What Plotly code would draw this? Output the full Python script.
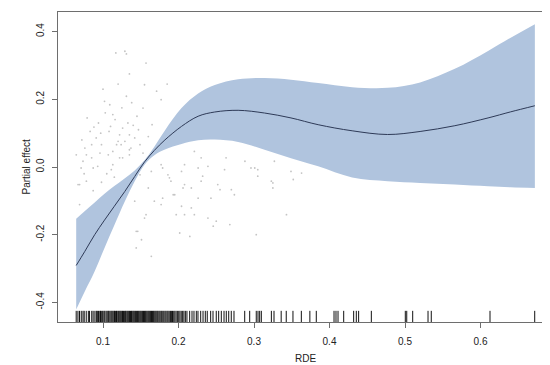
import plotly.graph_objects as go

# Smooth term estimate (RDE) with 95% band
grid_x = [0.0645, 0.076, 0.089, 0.102, 0.115, 0.129, 0.142, 0.155, 0.168, 0.182,
          0.204, 0.226, 0.248, 0.279, 0.314, 0.349, 0.385, 0.43, 0.477, 0.52,
          0.566, 0.61, 0.64, 0.672]
fit = [-0.291, -0.249, -0.200, -0.157, -0.116, -0.072, -0.028, 0.015, 0.049, 0.080,
       0.120, 0.150, 0.1625, 0.1675, 0.1595, 0.145, 0.125, 0.107, 0.096, 0.105,
       0.122, 0.145, 0.163, 0.181]
upper = [-0.153, -0.130, -0.105, -0.079, -0.056, -0.033, -0.010, 0.020, 0.060, 0.108,
         0.174, 0.217, 0.242, 0.259, 0.263, 0.258, 0.248, 0.236, 0.234, 0.250,
         0.290, 0.343, 0.382, 0.422]
lower = [-0.421, -0.367, -0.308, -0.239, -0.172, -0.101, -0.042, 0.007, 0.035, 0.052,
         0.068, 0.079, 0.081, 0.074, 0.051, 0.026, 0.002, -0.031, -0.042, -0.047,
         -0.052, -0.057, -0.060, -0.062]

# partial residuals
resid_x = [0.117, 0.129, 0.131, 0.157, 0.135, 0.155, 0.102, 0.109, 0.131, 0.171, 0.177, 0.103,
           0.113, 0.153, 0.133, 0.140, 0.126, 0.122, 0.135, 0.142, 0.129, 0.091, 0.085, 0.118,
           0.149, 0.096, 0.113, 0.135, 0.153, 0.078, 0.076, 0.098, 0.120, 0.085, 0.107, 0.071,
           0.093, 0.111, 0.126, 0.137, 0.078, 0.067, 0.069, 0.0646, 0.164, 0.177, 0.186, 0.160,
           0.168, 0.177, 0.142, 0.155, 0.146, 0.164, 0.195, 0.190, 0.124, 0.221, 0.230, 0.208,
           0.204, 0.226, 0.239, 0.263, 0.261, 0.288, 0.296, 0.305, 0.305, 0.327, 0.323, 0.349,
           0.363, 0.352, 0.208, 0.232, 0.230, 0.217, 0.252, 0.255, 0.270, 0.226, 0.243, 0.274,
           0.204, 0.217, 0.208, 0.221, 0.239, 0.250, 0.268, 0.246, 0.343, 0.2016, 0.215, 0.303,
           0.325, 0.301, 0.325, 0.151, 0.0735, 0.087, 0.069, 0.113, 0.122, 0.135, 0.149,
           0.179, 0.188, 0.179, 0.193, 0.197, 0.157, 0.144, 0.144, 0.206, 0.088, 0.094, 0.108,
           0.116, 0.145, 0.138, 0.125, 0.097, 0.083, 0.072, 0.110, 0.147, 0.160, 0.165, 0.185,
           0.120, 0.100, 0.079, 0.115, 0.128, 0.105, 0.098, 0.133, 0.120, 0.087, 0.075]
resid_y = [0.337, 0.342, 0.334, 0.307, 0.275, 0.243, 0.194, 0.184, 0.209, 0.224, 0.199, 0.160,
           0.155, 0.174, 0.130, 0.123, 0.115, 0.095, 0.095, 0.086, 0.076, 0.086, 0.066, 0.066,
           0.066, 0.041, 0.046, 0.051, 0.041, 0.036, 0.056, 0.066, 0.076, 0.027, 0.036, -0.003,
           0.002, -0.008, 0.027, 0.056, -0.042, -0.052, -0.111, 0.036, -0.013, 0.007, -0.023, -0.062,
           -0.101, -0.111, -0.101, -0.151, -0.190, -0.264, -0.082, -0.042, 0.066, 0.046, 0.027, 0.007,
           -0.013, -0.003, 0.002, 0.027, -0.008, 0.017, -0.003, -0.008, -0.027, 0.017, -0.042, -0.013,
           -0.018, -0.037, -0.052, -0.027, -0.042, -0.062, -0.052, -0.067, -0.067, -0.092, -0.092, -0.082,
           -0.116, -0.121, -0.141, -0.141, -0.151, -0.160, -0.170, -0.175, -0.141, -0.195, -0.205, -0.200,
           -0.062, -0.003, -0.047, -0.215, 0.017, -0.003, -0.052, 0.007, 0.027, 0.036, -0.023,
           -0.003, -0.032, -0.092, -0.082, -0.141, -0.141, -0.190, -0.239, -0.062, 0.118, 0.130, 0.105,
           0.140, 0.150, 0.190, 0.175, 0.100, 0.105, 0.080, 0.120, 0.110, 0.090, 0.125, 0.245,
           0.245, 0.230, 0.145, -0.030, -0.060, -0.020, -0.045, -0.040, -0.085, -0.070, -0.020]

# rug (observed RDE values)
rug_x = [0.0645, 0.0668, 0.0689, 0.0712, 0.0735, 0.0751, 0.0778, 0.0806, 0.0822, 0.0851, 0.0869,
         0.0893, 0.0912, 0.0925, 0.0941, 0.0958, 0.0967, 0.0983, 0.0996, 0.1012, 0.1024, 0.1041,
         0.1055, 0.1069, 0.1078, 0.1092, 0.1106, 0.1118, 0.1131, 0.1145, 0.1152, 0.1167, 0.1179,
         0.1188, 0.1203, 0.1214, 0.1226, 0.1237, 0.1249, 0.1258, 0.1271, 0.1283, 0.1296, 0.1305,
         0.1318, 0.1329, 0.1341, 0.1352, 0.1364, 0.1377, 0.1386, 0.1398, 0.1409, 0.1421, 0.1432,
         0.1445, 0.1456, 0.1468, 0.1479, 0.1491, 0.1502, 0.1514, 0.1525, 0.1537, 0.1549, 0.1561,
         0.1572, 0.1584, 0.1596, 0.1607, 0.1619, 0.1631, 0.1642, 0.1655, 0.1667, 0.1678, 0.1691,
         0.1703, 0.1716, 0.1727, 0.1741, 0.1754, 0.1768, 0.1779, 0.1793, 0.1806, 0.1821, 0.1834,
         0.1849, 0.1862, 0.1877, 0.1893, 0.1906, 0.1921, 0.1937, 0.1952, 0.1968, 0.1985, 0.2003,
         0.2019, 0.2036, 0.2055, 0.2072, 0.2091, 0.2112, 0.2148, 0.2179, 0.2205, 0.2236, 0.2258,
         0.2294, 0.2325, 0.2355, 0.2381, 0.2426, 0.2457, 0.2500, 0.2532, 0.2567, 0.2603, 0.2633,
         0.2665, 0.2699, 0.2735, 0.2877, 0.2943, 0.3030, 0.3053, 0.3075, 0.3097, 0.3230, 0.3265,
         0.3360, 0.3427, 0.3516, 0.3627, 0.3740, 0.3825, 0.4060, 0.4086, 0.4113, 0.4188, 0.4320,
         0.4355, 0.4386, 0.4554, 0.5004, 0.5023, 0.5102, 0.5305, 0.5348, 0.6126, 0.6718]

x_ticks = [0.1, 0.2, 0.3, 0.4, 0.5, 0.6]
y_ticks = [-0.4, -0.2, 0.0, 0.2, 0.4]
x_range = [0.0404, 0.6947]
y_range = [-0.458, 0.458]
rug_len = 0.033

fig = go.Figure()
fig.add_trace(go.Scatter(x=resid_x, y=resid_y, mode="markers",
                         marker=dict(size=1.8, color="#c4c4c4"), hoverinfo="skip"))
fig.add_trace(go.Scatter(x=grid_x, y=lower, mode="lines", line=dict(width=0, shape="spline"),
                         hoverinfo="skip"))
fig.add_trace(go.Scatter(x=grid_x, y=upper, mode="lines", line=dict(width=0, shape="spline"),
                         fill="tonexty", fillcolor="#b0c4de", hoverinfo="skip"))
fig.add_trace(go.Scatter(x=grid_x, y=fit, mode="lines",
                         line=dict(width=1, color="#2e3a57", shape="spline")))

rx, ry = [], []
for v in rug_x:
    rx += [v, v, None]
    ry += [y_range[0], y_range[0] + rug_len, None]
fig.add_trace(go.Scatter(x=rx, y=ry, mode="lines", line=dict(width=1, color="#111111"),
                         hoverinfo="skip"))

axis_common = dict(showgrid=False, zeroline=False, showline=True, mirror=True,
                   linecolor="#6e6e6e", linewidth=1, ticks="outside", ticklen=5,
                   tickcolor="#6e6e6e", tickfont=dict(family="Liberation Sans", size=10, color="#222"))
fig.update_xaxes(range=x_range, tickvals=x_ticks, ticktext=[f"{t:.1f}" for t in x_ticks],
                 ticklabelstandoff=5, **axis_common)
fig.update_yaxes(range=y_range, tickvals=y_ticks, ticktext=[f"{t:.1f}" for t in y_ticks],
                 tickangle=-90, ticklabelstandoff=4, **axis_common)

fig.add_annotation(text="RDE", xref="paper", yref="paper", x=0.5, y=0, yshift=-44,
                   showarrow=False, font=dict(family="Liberation Sans", size=10, color="#222"))
fig.add_annotation(text="Partial effect", xref="paper", yref="paper", x=0, y=0.5, xshift=-40,
                   textangle=-90, showarrow=False,
                   font=dict(family="Liberation Sans", size=10, color="#222"))

fig.update_layout(width=550, height=365, margin=dict(l=50, r=6, t=4, b=51),
                  plot_bgcolor="white", paper_bgcolor="white", showlegend=False)
fig.write_html("out.html")
